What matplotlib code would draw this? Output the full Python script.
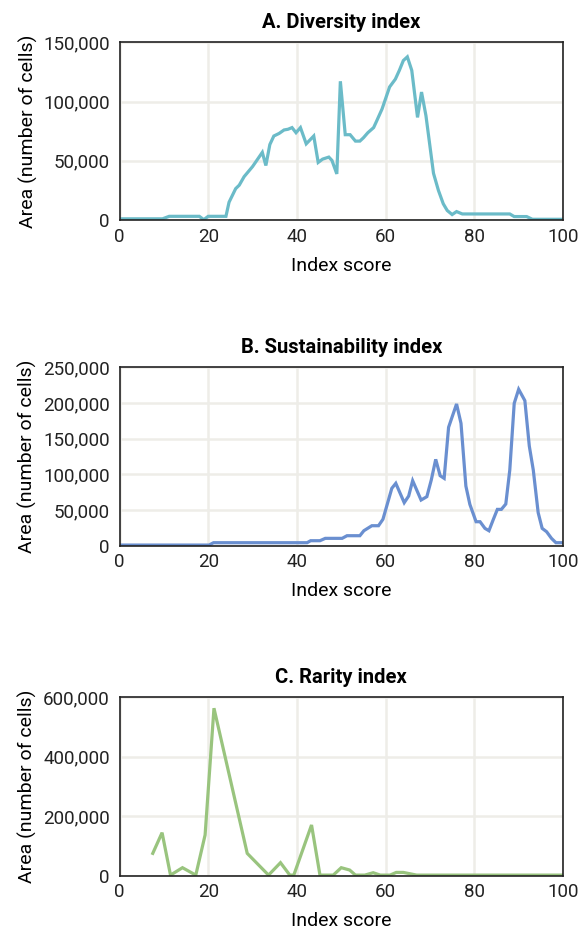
import matplotlib.pyplot as plt
from matplotlib.ticker import FuncFormatter

# Diversity index (panel A)
div_x = [0, 9.7, 11.2, 18, 19, 20, 24, 24.7, 26.2, 27, 28.1, 30, 32.2, 33, 33.9, 34.8,
         36, 37.1, 38, 38.9, 39.8, 40.8, 42.1, 43.8, 44.8, 45.8, 47.2, 47.9, 49, 49.8,
         50.9, 52, 53.2, 54.2, 55, 56, 57.3, 58, 59.2, 60.9, 62.2, 63.1, 64, 64.9, 65.9,
         67.2, 68.1, 69.1, 70.8, 71.9, 73, 73.9, 75, 76, 77.3, 88, 89, 91.8, 93.1, 100]
div_y = [1000, 1000, 3100, 3100, 300, 3100, 3100, 15000, 26500, 29400, 36600, 45100,
         57100, 46000, 63700, 70900, 73100, 76000, 76600, 78000, 73700, 78000, 64300,
         70900, 48600, 51400, 53100, 50300, 38900, 117100, 72000, 72000, 66600, 66600,
         69400, 73700, 78000, 83700, 93700, 112300, 118900, 126300, 134600, 137700,
         126300, 86600, 108000, 88000, 39400, 25100, 13700, 8000, 4600, 7100, 5100,
         5100, 2900, 2900, 600, 600]

# Sustainability index (panel B)
sus_x = [0, 20.2, 21.2, 42.3, 43.1, 45.2, 46.4, 50.2, 51.3, 54.2, 55.1, 56.9, 58.4,
         59.4, 61.4, 62.3, 64.2, 65.2, 66.1, 68, 69.3, 70.3, 71.3, 72.3, 73.2, 74.2,
         76, 77, 78.1, 79, 80.4, 81.3, 82.4, 83.3, 84.3, 85.2, 86.1, 87.1, 88, 89, 90,
         91.4, 92.4, 93.3, 94.4, 95.3, 96.3, 97.4, 98.4, 100]
sus_y = [900, 900, 4200, 4200, 7000, 7000, 10300, 10300, 14000, 14000, 21000, 28000,
         28000, 37000, 80400, 87400, 60300, 69600, 91100, 64000, 68700, 92100, 121000,
         98100, 94400, 165900, 198600, 171500, 83600, 57900, 33600, 33600, 24300, 21000,
         37000, 50900, 50900, 58400, 106000, 199500, 219200, 203300, 139700, 106000,
         46300, 24300, 19600, 10300, 4200, 4200]

# Rarity index (panel C)
rar_x = [7.5, 9.6, 11.5, 14.2, 17.2, 19.3, 21.3, 28.8, 33.6, 36.3, 38.4, 39.3, 43.3,
         45.2, 48.2, 50, 51.9, 53.2, 55.3, 57.2, 58.8, 61, 62.4, 64, 67, 100]
rar_y = [75000, 144500, 2000, 26900, 2000, 136700, 562400, 75000, 2000, 43700, 2000,
         2000, 170300, 2000, 2000, 26900, 19000, 2000, 2000, 10000, 2000, 2000, 11000,
         11000, 2000, 2000]

panels = [
    ("A. Diversity index", div_x, div_y, "#6bbbc8", 150000, [0, 50000, 100000, 150000]),
    ("B. Sustainability index", sus_x, sus_y, "#6a8fd0", 250000,
     [0, 50000, 100000, 150000, 200000, 250000]),
    ("C. Rarity index", rar_x, rar_y, "#99c47e", 600000, [0, 200000, 400000, 600000]),
]

# axes boxes in pixels: (top, bottom)
W, H = 585, 936
boxes = [(42.3, 220), (367.3, 545.7), (697, 875.7)]
left, right = 119.5, 563

plt.rcParams['font.family'] = ['Roboto', 'DejaVu Sans']
fig = plt.figure(figsize=(W / 100, H / 100), dpi=100)

fmt = FuncFormatter(lambda v, p: f"{int(v):,}")

for (title, xs, ys, col, ymax, yt), (top, bot) in zip(panels, boxes):
    ax = fig.add_axes([left / W, 1 - bot / H, (right - left) / W, (bot - top) / H])
    ax.plot(xs, ys, color=col, lw=2.3, solid_joinstyle='miter')
    ax.set_xlim(0, 100)
    ax.set_ylim(0, ymax)
    ax.set_xticks([0, 20, 40, 60, 80, 100])
    ax.set_yticks(yt)
    ax.yaxis.set_major_formatter(fmt)
    ax.grid(True, color="#eeede8", lw=1.8)
    ax.set_axisbelow(True)
    for s in ax.spines.values():
        s.set_linewidth(1.2)
        s.set_color("#222222")
    ax.tick_params(length=0, labelsize=13.5, colors="#222222")
    ax.tick_params(axis='x', pad=5.5)
    ax.tick_params(axis='y', pad=7)
    ax.set_title(title, fontsize=14.5, fontweight='bold', pad=10)
    ax.set_xlabel("Index score", fontsize=14, labelpad=8)
    ax.set_ylabel("Area (number of cells)", fontsize=14, labelpad=4)

fig.savefig("out.png", dpi=100)
